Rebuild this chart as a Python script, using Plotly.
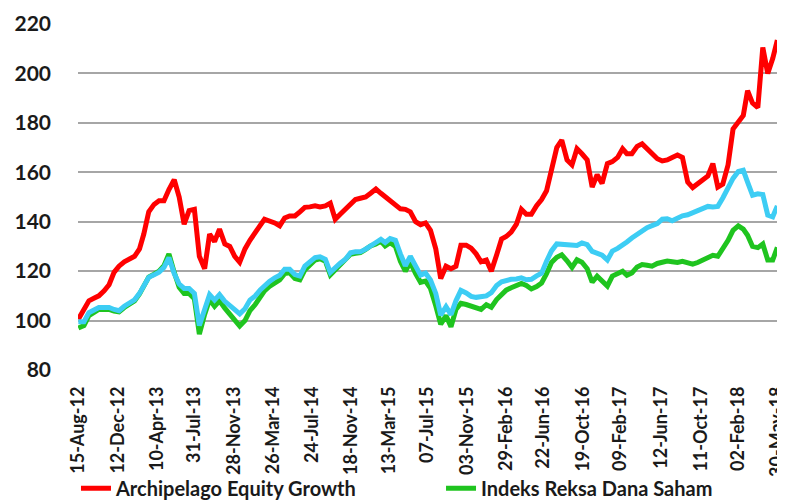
import plotly.graph_objects as go

# Sampling dates (semi-monthly readings from the chart)
dates = ["2012-08-15"]
for y in range(2012, 2019):
    for m in range(1, 13):
        if (y == 2012 and m < 9) or (y == 2018 and m > 5):
            continue
        dates.append(f"{y}-{m:02d}-01")
        dates.append(f"{y}-{m:02d}-16")
dates.append("2018-05-30")

archipelago = [100.5,105,108,109,110,112,114.5,119.5,122,123.8,
125,126,129,135,144,147,148.5,148.5,153,157,
150,139,144.5,145,126,121,135,132,137,131,
130,126,123.6,129,132.5,136,138.5,141,140.5,139.5,
138.3,141.5,142.3,142.3,144,145.8,146,146.4,146,146.4,
147.5,141,143,145,146.5,149,149.5,150,151.5,153.2,
151.5,150,148.5,146.4,145.2,145,144,140,138.8,139.5,
136.5,129,117,122,121,122,130.5,130.5,129.3,127,
123.8,124.5,120,126.5,133,134,135.8,139,145,143,
143,146.5,149,152.5,162,170,173,165,163,169.5,
167.5,165,154,159,155.5,163.5,164.3,166,169.5,167.5,
167.5,170.5,171.5,169.5,167,165.5,164.6,165,166,167,
166,156,153.8,155.5,157,158.5,163.5,154,155.2,163,
177.5,180.5,183,193,188,186.2,210.5,200,206,213.5]

indeks = [97,98,102,103.5,104.5,104.5,104.5,103.8,103.5,105.3,
106.6,108,110.8,114,117.6,118.8,120,122.2,127,119.5,
113.5,111,111,108.8,94.5,102.5,108.5,105.8,108,105,
102.5,100.5,97.8,100,104,106.5,109.5,112,113.8,115.5,
116.5,119,119.3,117,116.5,120.5,122.8,124.5,125,124,
118.5,120.5,122.5,124.3,126.8,127.2,127.5,128.8,130.2,131,
132.2,130.2,131.5,130,124,120,123.5,119,115.5,116,
113,106,98.5,102,97.5,104.5,107,106.5,105.8,104.8,
104.5,106.4,105.4,108.5,110.7,112.3,113.3,114,115,114.2,
112.8,113.8,115.2,119,123.5,125.6,126.6,124.2,121.5,124.6,
123.6,121,115.5,118,116.2,114,118,118.9,120,118.3,
119.3,121.7,122.7,122.4,122,123.1,123.8,124.1,123.8,123.5,
124,123.5,122.8,123.5,124.5,125.4,126.4,126,129,132.5,
136.5,138.3,137,134.5,130,129.5,131,124.5,124.5,129.6]

third = [99.5,99.5,103.2,104.5,105.3,105.3,105.3,104.5,104,105.8,
107,108.4,111,114,117.5,118.5,119.6,121.5,125.5,119,
114.8,113,113,111,98,104.5,110.5,108.3,110.5,107.8,
105.8,104.4,102.7,104.8,108.3,110,112.4,114.2,115.8,117.3,
118.3,120.8,120.8,118.6,118,122,124,125.5,125.8,124.8,
119.5,121.5,123.2,124.8,127.4,127.8,127.8,128.9,130.5,131.6,
132.9,131.6,133.2,132.5,127,122.2,126,122,118.4,119.2,
116.4,111,102.2,105.6,102.4,108,112.2,111.2,109.8,109.4,
109.9,110,111.3,114.2,115.7,116.4,116.7,116.8,117.3,116.5,
116.7,118.1,119.2,124,128.2,131,130.9,130.9,131,130.4,
131.4,130.7,128,127,126.5,124.5,128.1,129.2,130.4,131.8,
133.4,134.9,136.3,137.6,138.4,139.2,141,141.2,140.4,141.4,
142.4,142.8,143.6,144.6,145.6,146.2,146,146.2,149.6,153.7,
157.5,160.3,160.8,156,150.7,151.3,151,142.7,142,146.4]

tick_dates = ["2012-08-15","2012-12-12","2013-04-10","2013-07-31","2013-11-28",
              "2014-03-26","2014-07-24","2014-11-18","2015-03-13","2015-07-07",
              "2015-11-03","2016-02-29","2016-06-22","2016-10-19","2017-02-09",
              "2017-06-12","2017-10-11","2018-02-02","2018-05-30"]
tick_labels = ["15-Aug-12","12-Dec-12","10-Apr-13","31-Jul-13","28-Nov-13",
               "26-Mar-14","24-Jul-14","18-Nov-14","13-Mar-15","07-Jul-15",
               "03-Nov-15","29-Feb-16","22-Jun-16","19-Oct-16","09-Feb-17",
               "12-Jun-17","11-Oct-17","02-Feb-18","30-May-18"]
y_ticks = [80, 100, 120, 140, 160, 180, 200, 220]

fig = go.Figure()
fig.add_trace(go.Scatter(x=dates, y=archipelago, mode="lines",
                         name="Archipelago Equity Growth",
                         line=dict(color="#FF0000", width=5), legend="legend"))
fig.add_trace(go.Scatter(x=dates, y=indeks, mode="lines",
                         name="Indeks Reksa Dana Saham",
                         line=dict(color="#1FC41F", width=5), legend="legend2"))
fig.add_trace(go.Scatter(x=dates, y=third, mode="lines", name="IHSG",
                         line=dict(color="#3DCDF4", width=5), showlegend=False))

legend_font = dict(family="Lato", size=20, color="#1a1a1a", weight="bold")

fig.update_layout(
    template="none",
    width=777, height=493,
    margin=dict(l=70, r=7, t=16, b=131, autoexpand=False),
    paper_bgcolor="white", plot_bgcolor="white",
    font=dict(family="Lato", size=17, color="#1a1a1a"),
    xaxis=dict(type="date", range=["2012-08-14", "2018-06-01"], automargin=False,
               tickmode="array", tickvals=tick_dates, ticktext=tick_labels,
               tickangle=-90, showgrid=False, zeroline=False, showline=False,
               tickfont=dict(family="Lato", size=18, color="#1a1a1a", weight="bold"),
               ticks="", ticklabelstandoff=12, ticklabeloverflow="allow"),
    yaxis=dict(range=[80, 220], tickmode="array", tickvals=y_ticks, automargin=False,
               showgrid=True, gridcolor="#A6A6A6", gridwidth=1.5,
               zeroline=False, showline=False, ticks="",
               tickfont=dict(family="Lato", size=21, color="#1a1a1a", weight="bold"),
               ticklabelstandoff=26),
    legend=dict(orientation="h", xref="container", x=0.0875, xanchor="left",
                yref="container", y=0.026, yanchor="middle",
                font=legend_font, bgcolor="rgba(0,0,0,0)"),
    legend2=dict(orientation="h", xref="container", x=0.5573, xanchor="left",
                 yref="container", y=0.026, yanchor="middle",
                 font=legend_font, bgcolor="rgba(0,0,0,0)"),
)

fig.write_html("out.html")
